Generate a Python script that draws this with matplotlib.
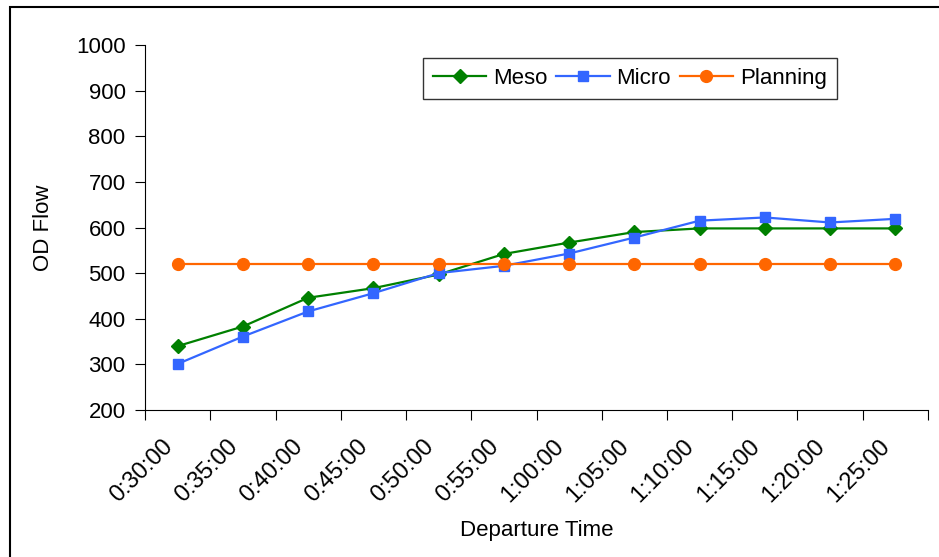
import matplotlib
matplotlib.use("Agg")
import matplotlib.pyplot as plt
from matplotlib.patches import Rectangle

plt.rcParams["font.family"] = ["Liberation Sans", "DejaVu Sans"]

times = ["0:30:00", "0:35:00", "0:40:00", "0:45:00", "0:50:00", "0:55:00",
         "1:00:00", "1:05:00", "1:10:00", "1:15:00", "1:20:00", "1:25:00"]
meso = [340, 383, 446, 467, 497, 542, 567, 590, 598, 598, 598, 598]
micro = [301, 361, 416, 456, 500, 516, 543, 578, 615, 622, 611, 619]
planning = [520] * 12

W, H = 939, 557
fs = 16
fig = plt.figure(figsize=(W / 100, H / 100), dpi=100)
ax = fig.add_axes([145 / W, 1 - 410 / H, (928 - 145) / W, (410 - 45) / H])

x = list(range(len(times)))
ax.plot(x, meso, color="#008000", lw=1.6, marker="D", ms=7.5, label="Meso")
ax.plot(x, micro, color="#3366FF", lw=1.6, marker="s", ms=7.5, label="Micro")
ax.plot(x, planning, color="#FF6600", lw=1.6, marker="o", ms=8.5, label="Planning")

ax.set_xlim(-0.5, len(times) - 0.5)
ax.set_ylim(200, 1000)
ax.set_yticks(range(200, 1001, 100))
ax.set_xticks([i - 0.5 for i in range(len(times) + 1)])
ax.set_xticklabels([])
# labels sit a little left of each category centre, as in the original
ax.set_xticks([i - 0.25 for i in x], minor=True)
ax.set_xticklabels(times, minor=True, rotation=45, ha="right", va="top",
                   rotation_mode="anchor", fontsize=fs + 1)
ax.tick_params(axis="x", which="minor", length=0, pad=18)
ax.tick_params(axis="x", which="major", length=7, direction="out")
ax.tick_params(axis="y", length=7, direction="out", labelsize=fs, pad=7)

for s in ["top", "right"]:
    ax.spines[s].set_visible(False)

ax.set_xlabel("Departure Time", fontsize=fs, labelpad=10)
ax.set_ylabel("OD Flow", fontsize=fs, labelpad=16)

leg = ax.legend(loc="upper left", bbox_to_anchor=(423 / W, 1 - 58 / H),
                bbox_transform=fig.transFigure, ncol=3, fontsize=fs,
                frameon=True, fancybox=False, handlelength=2.4,
                columnspacing=0.4, handletextpad=0.3, borderpad=0.45,
                borderaxespad=0)
leg.get_frame().set_edgecolor("black")
leg.get_frame().set_linewidth(1.0)

fig.patches.append(Rectangle((10 / W, -0.1), 1.2, 1 - 7 / H + 0.1,
                             transform=fig.transFigure, fill=False,
                             edgecolor="black", lw=1.5))

fig.savefig("out.png", dpi=100)
